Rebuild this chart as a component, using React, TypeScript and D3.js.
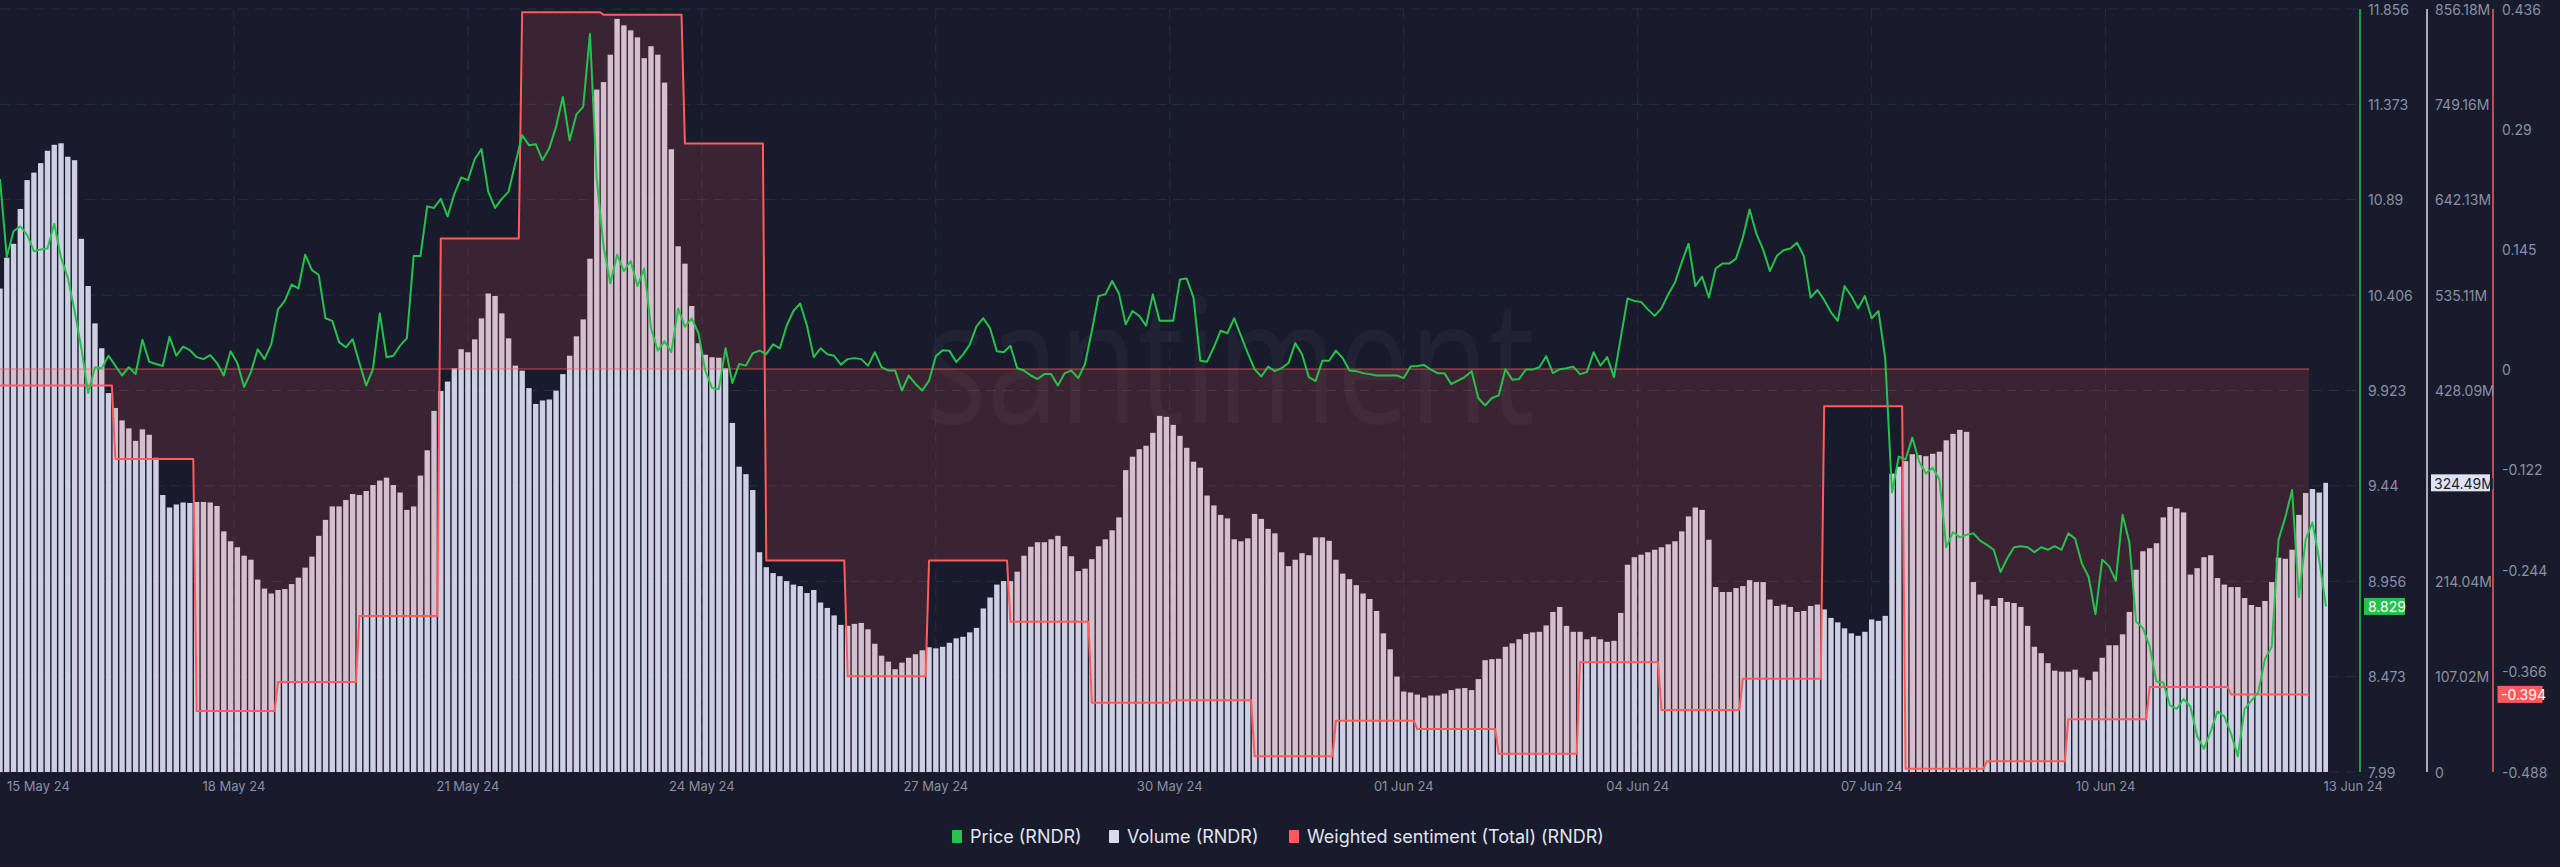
import * as d3 from "d3";
import { useEffect } from "react";

const WIDTH = 2560;
const HEIGHT = 867;
const FONT = "Inter, 'Noto Sans', sans-serif";
const BG = "#181b2c";

// time is counted in hours from the first sample; price & volume every 2h
const STEP_HOURS = 2;
const SPAN_HOURS = 686;
const TICK_EVERY_HOURS = 69;
// weighted sentiment is daily; its days start 14h before the first sample
const SENT_FIRST_HOUR = -14;
const SENT_STEP_HOURS = 24;

// price (USD)
const price = [
  10.994, 10.600, 10.730, 10.755, 10.712, 10.629, 10.637, 10.642, 10.768, 10.596,
  10.495, 10.326, 10.137, 9.910, 10.041, 10.036, 10.099, 10.049, 9.999, 10.041,
  10.006, 10.180, 10.069, 10.057, 10.047, 10.195, 10.099, 10.145, 10.127, 10.092,
  10.082, 10.102, 10.062, 9.999, 10.122, 10.062, 9.941, 10.016, 10.132, 10.082,
  10.157, 10.334, 10.377, 10.460, 10.440, 10.611, 10.533, 10.508, 10.289, 10.276,
  10.168, 10.142, 10.183, 10.062, 9.948, 10.031, 10.314, 10.092,
  10.099, 10.150, 10.188, 10.604, 10.604, 10.856, 10.848, 10.894, 10.805, 10.919,
  11.002, 10.989, 11.095, 11.146, 10.931, 10.848, 10.894, 10.931, 11.075, 11.216,
  11.166, 11.171, 11.090, 11.151, 11.259, 11.410, 11.191, 11.322, 11.360, 11.730,
  10.994, 10.654, 10.465, 10.611, 10.528, 10.579, 10.452, 10.541, 10.238, 10.125,
  10.173, 10.117, 10.339, 10.246, 10.289, 10.213, 10.024, 9.936, 9.931, 10.137,
  9.961, 10.057, 10.049, 10.112, 10.125, 10.107, 10.157,
  10.137, 10.251, 10.326, 10.364, 10.251, 10.092, 10.137, 10.107, 10.099, 10.054,
  10.082, 10.087, 10.082, 10.049, 10.117, 10.041, 10.024, 10.024, 9.923, 9.999,
  9.956, 9.923, 9.973, 10.097, 10.127, 10.125, 10.067, 10.105, 10.155, 10.248,
  10.289, 10.238, 10.122, 10.117, 10.150, 10.036, 10.024, 9.999, 9.981, 10.006,
  10.006, 9.948, 10.011, 10.024, 9.986, 10.057, 10.223, 10.402, 10.410, 10.478,
  10.415, 10.258, 10.326, 10.301, 10.251, 10.410, 10.276,
  10.276, 10.276, 10.485, 10.490, 10.394, 10.074, 10.069, 10.142, 10.226, 10.213,
  10.289, 10.200, 10.112, 10.031, 9.994, 10.044, 10.021, 10.036, 10.062, 10.163,
  10.107, 9.991, 9.971, 10.074, 10.074, 10.125, 10.087, 10.024, 10.021, 10.011,
  10.006, 9.999, 9.999, 9.999, 9.999, 9.986, 10.044, 10.047, 10.052, 10.029,
  10.011, 10.011, 9.956, 9.973, 9.991, 10.021, 9.885, 9.847, 9.885, 9.898,
  10.031, 9.978, 9.981, 10.029, 10.029, 10.041, 10.097, 10.011, 10.031,
  10.036, 10.044, 10.006, 10.016, 10.117, 10.049, 10.092, 9.991, 10.188, 10.389,
  10.377, 10.372, 10.334, 10.301, 10.339, 10.410, 10.470, 10.573, 10.667, 10.452,
  10.500, 10.394, 10.541, 10.566, 10.566, 10.591, 10.697, 10.840, 10.717, 10.637,
  10.528, 10.604, 10.634, 10.642, 10.672, 10.604, 10.394, 10.432, 10.382, 10.319,
  10.276, 10.452, 10.402, 10.339, 10.402, 10.289, 10.326, 10.087, 9.406, 9.588,
  9.573, 9.684, 9.563, 9.502, 9.532, 9.472, 9.129,
  9.205, 9.179, 9.192, 9.199, 9.162, 9.141, 9.116, 9.003, 9.073, 9.129,
  9.134, 9.129, 9.104, 9.129, 9.116, 9.134, 9.116, 9.199, 9.172, 9.046,
  8.978, 8.789, 9.066, 9.033, 8.960, 9.293, 9.154, 8.751, 8.720, 8.625,
  8.448, 8.443, 8.327, 8.310, 8.360, 8.322, 8.171, 8.108, 8.196, 8.297,
  8.272, 8.184, 8.070, 8.310, 8.352, 8.393, 8.562, 8.625, 9.167, 9.280,
  9.419, 8.877, 9.167, 9.255, 9.066, 8.829,
];

// volume (millions)
const volume = [
  542.5, 577.1, 592.7, 631.8, 664.2, 672.6, 683.2, 697.1, 703.8, 705.5,
  690.4, 686.5, 598.3, 545.3, 503.4, 475.5, 425.2, 408.5, 394.5, 385.6,
  371.6, 384.5, 378.4, 352.7, 310.8, 296.8, 300.2, 302.4, 301.9, 303.0,
  303.0, 302.4, 298.5, 270.0, 258.9, 252.2, 242.7, 238.2, 215.9, 205.8,
  200.3, 204.2, 205.3, 210.9, 218.1, 229.3, 241.6, 265.0, 282.9, 298.0,
  298.0, 305.2, 311.9, 310.8, 315.3, 322.0, 327.0, 330.3,
  322.0, 313.6, 294.1, 298.0, 332.6, 361.0, 405.2, 427.5, 438.1, 453.1,
  474.4, 471.0, 485.5, 509.0, 536.9, 534.1, 514.6, 486.6, 456.0, 450.4,
  430.8, 413.0, 416.9, 418.0, 428.0, 446.5, 467.1, 488.9, 507.9, 576.0,
  765.8, 774.2, 804.9, 845.1, 837.8, 832.2, 824.4, 801.0, 814.4, 804.9,
  773.6, 698.8, 589.9, 570.4, 522.9, 481.1, 468.2, 465.4, 464.9, 453.1,
  391.7, 342.6, 334.2, 316.4, 246.6, 229.8, 223.2,
  219.8, 214.2, 210.3, 208.6, 200.8, 204.2, 190.2, 184.1, 175.7, 165.1,
  164.0, 166.2, 167.3, 160.1, 143.9, 130.5, 123.8, 115.4, 122.7, 128.2,
  132.1, 136.6, 140.0, 138.8, 140.5, 145.0, 150.0, 151.7, 156.7, 161.7,
  183.5, 195.8, 210.3, 214.2, 214.2, 224.8, 242.7, 252.8, 257.8, 257.8,
  261.1, 265.0, 253.3, 242.1, 225.4, 228.2, 238.8, 253.3, 261.1, 271.2,
  285.7, 338.7, 353.8, 362.2, 366.1, 380.6, 399.6,
  398.5, 389.5, 377.2, 363.8, 348.2, 341.5, 310.2, 299.1, 288.5, 284.5,
  261.1, 258.9, 262.2, 289.6, 284.0, 272.8, 267.8, 246.6, 231.0, 238.2,
  245.5, 243.2, 263.3, 263.3, 259.4, 238.2, 222.6, 216.4, 209.7, 200.3,
  194.1, 180.7, 155.6, 137.7, 107.0, 90.3, 89.2, 86.9, 83.6, 85.8,
  85.8, 88.0, 91.9, 93.6, 94.2, 91.9, 104.2, 125.5, 126.6, 127.1,
  140.5, 144.4, 148.9, 155.0, 156.7, 157.3, 164.5, 179.6, 185.2,
  164.0, 157.3, 157.3, 148.9, 151.7, 148.9, 146.1, 147.2, 178.5, 232.6,
  241.0, 243.8, 246.6, 249.4, 252.2, 255.5, 258.9, 270.0, 286.8, 296.8,
  294.1, 260.6, 207.5, 202.0, 202.0, 206.4, 208.6, 215.3, 213.1, 213.1,
  193.5, 186.3, 187.9, 185.2, 179.6, 180.7, 186.3, 187.9, 182.4, 172.9,
  167.9, 161.2, 155.6, 152.8, 157.3, 171.2, 169.6, 175.2, 334.8, 342.6,
  348.8, 356.6, 355.5, 354.4, 357.1, 359.4, 372.2,
  379.4, 383.9, 381.7, 213.1, 199.1, 193.5, 186.3, 195.2, 190.8, 189.6,
  185.2, 164.0, 140.5, 133.3, 122.1, 113.7, 112.6, 112.6, 114.8, 105.9,
  103.1, 112.6, 128.2, 142.2, 142.2, 154.5, 179.6, 227.0, 247.7, 251.1,
  256.7, 285.7, 297.4, 295.7, 291.3, 221.5, 228.7, 241.0, 243.2, 217.6,
  210.3, 207.5, 207.5, 195.2, 187.4, 185.2, 191.9, 213.1, 240.5, 239.3,
  249.4, 288.5, 313.0, 317.5, 313.6, 324.49,
];

// weighted sentiment, one value per day
const sentiment = [
  -0.020, -0.020, -0.109, -0.414, -0.379, -0.299, 0.158, 0.432, 0.429, 0.273,
  -0.232, -0.372, -0.232, -0.306, -0.404, -0.401, -0.469, -0.426, -0.436, -0.466,
  -0.355, -0.413, -0.375, -0.045, -0.484, -0.475, -0.424, -0.385, -0.394,
];

const dateLabels = [
  "18 May 24", "21 May 24", "24 May 24", "27 May 24", "30 May 24",
  "01 Jun 24", "04 Jun 24", "07 Jun 24", "10 Jun 24",
];
const firstDateLabel = "15 May 24";
const lastDateLabel = "13 Jun 24";

const priceTicks = [7.99, 8.473, 8.956, 9.44, 9.923, 10.406, 10.89, 11.373, 11.856];
const volumeTicks = [0, 107.02, 214.04, 321.07, 428.09, 535.11, 642.13, 749.16, 856.18];
const sentimentTicks = [-0.488, -0.366, -0.244, -0.122, 0, 0.145, 0.29, 0.436];

const GREEN = "#26c24c";
const VOL = "#cdd0e3";
const RED = "#ff5b5b";

const legendItems = [
  { label: "Price (RNDR)", color: GREEN, x: 952 },
  { label: "Volume (RNDR)", color: "#d8dbea", x: 1109 },
  { label: "Weighted sentiment (Total) (RNDR)", color: RED, x: 1289 },
];

export default function App() {
  useEffect(() => {
    document.body.style.margin = "0";
    document.body.style.background = BG;
  }, []);

  const top = 9;
  const bottom = 772;
  const plotRight = 2326;
  const gridRight = 2358;

  const x = d3.scaleLinear().domain([0, SPAN_HOURS]).range([0, plotRight]);
  const yPrice = d3.scaleLinear().domain([7.99, 11.856]).range([bottom, top]);
  const yVol = d3.scaleLinear().domain([0, 856.18]).range([bottom, top]);
  const ySent = d3.scaleLinear().domain([-0.488, 0.436]).range([bottom, top]);

  const step = x(STEP_HOURS) - x(0);
  const barW = step - 1.4;

  const pricePath = d3
    .line<number>()
    .x((_, i) => x(i * STEP_HOURS))
    .y((d) => yPrice(d))(price);

  // each daily value is held for 23h, then moves to the next over one hour
  const sentPts: [number, number][] = sentiment.flatMap((v, k) => {
    const start = SENT_FIRST_HOUR + k * SENT_STEP_HOURS;
    return [
      [start, v],
      [start + SENT_STEP_HOURS - 1, v],
    ] as [number, number][];
  });
  const sentEndHour = SENT_FIRST_HOUR + sentiment.length * SENT_STEP_HOURS - 1;

  const sentLine = d3
    .line<[number, number]>()
    .x((d) => x(d[0]))
    .y((d) => ySent(d[1]))(sentPts);
  const sentArea = d3
    .area<[number, number]>()
    .x((d) => x(d[0]))
    .y0(ySent(0))
    .y1((d) => ySent(d[1]))(sentPts);

  const lastPrice = price[price.length - 1];
  const lastVol = volume[volume.length - 1];
  const lastSent = sentiment[sentiment.length - 1];

  const axisX = { price: 2360, vol: 2427, sent: 2493 };
  const labelColor = "#8b8fa3";

  const fmtVol = (v: number) => (v === 0 ? "0" : v.toFixed(2) + "M");

  return (
    <svg
      width={WIDTH}
      height={HEIGHT}
      style={{ position: "absolute", left: 0, top: 0, display: "block" }}
      fontFamily={FONT}
    >
      <defs>
        <clipPath id="plotClip">
          <rect x={0} y={0} width={plotRight + 2} height={bottom + 1} />
        </clipPath>
      </defs>
      <rect width={WIDTH} height={HEIGHT} fill={BG} />

      {/* grid */}
      <g stroke="#2a2e42" strokeWidth={1} strokeDasharray="10 7">
        {priceTicks.map((t) => (
          <line key={"h" + t} x1={0} x2={gridRight} y1={yPrice(t)} y2={yPrice(t)} />
        ))}
        {dateLabels.map((_, i) => {
          const xx = x((i + 1) * TICK_EVERY_HOURS);
          return <line key={"v" + i} x1={xx} x2={xx} y1={top} y2={bottom} />;
        })}
      </g>

      {/* watermark */}
      <text
        x={925}
        y={423}
        fontSize={172}
        fontFamily="'Open Sans', sans-serif"
        fill="#ffffff"
        fillOpacity={0.035}
        textLength={610}
        lengthAdjust="spacingAndGlyphs"
      >
        santiment
      </text>

      <g clipPath="url(#plotClip)">
        {/* volume bars */}
        <g fill={VOL}>
          {volume.map((v, i) => (
            <rect
              key={i}
              x={x(i * STEP_HOURS) - barW / 2}
              y={yVol(v)}
              width={barW}
              height={bottom - yVol(v)}
            />
          ))}
        </g>

        {/* sentiment */}
        <path d={sentArea ?? ""} fill={RED} fillOpacity={0.15} />
        <line
          x1={0}
          x2={x(sentEndHour)}
          y1={ySent(0)}
          y2={ySent(0)}
          stroke={RED}
          strokeOpacity={0.75}
          strokeWidth={1}
        />
        <path d={sentLine ?? ""} fill="none" stroke={RED} strokeWidth={2} strokeLinejoin="round" />

        {/* price */}
        <path d={pricePath ?? ""} fill="none" stroke={GREEN} strokeWidth={2} strokeLinejoin="round" />
      </g>

      {/* right axes */}
      <line x1={axisX.price} x2={axisX.price} y1={top} y2={bottom} stroke={GREEN} strokeWidth={1.5} />
      <line x1={axisX.vol} x2={axisX.vol} y1={top} y2={bottom} stroke="#d8dbea" strokeWidth={1.5} />
      <line x1={axisX.sent} x2={axisX.sent} y1={top} y2={bottom} stroke={RED} strokeWidth={1.5} />

      <g fontSize={14} fill={labelColor} dominantBaseline="central">
        {priceTicks.map((t) => (
          <text key={"p" + t} x={axisX.price + 8} y={yPrice(t)}>
            {String(t)}
          </text>
        ))}
        {volumeTicks
          .filter((t) => Math.abs(yVol(t) - yVol(lastVol)) > 14)
          .map((t) => (
            <text key={"vv" + t} x={axisX.vol + 8} y={yVol(t)}>
              {fmtVol(t)}
            </text>
          ))}
        {sentimentTicks.map((t) => (
          <text key={"s" + t} x={axisX.sent + 9} y={ySent(t)}>
            {String(t)}
          </text>
        ))}
      </g>

      {/* last value badges */}
      <g fontSize={14} dominantBaseline="central">
        <rect x={axisX.price + 4} y={yPrice(lastPrice) - 8.5} width={41} height={17} fill={GREEN} />
        <text x={axisX.price + 8} y={yPrice(lastPrice) + 0.5} fill="#ffffff">
          {lastPrice.toFixed(3)}
        </text>
        <rect x={axisX.vol + 4} y={yVol(lastVol) - 8.5} width={59} height={17} fill="#dfe2f0" />
        <text x={axisX.vol + 7} y={yVol(lastVol) + 0.5} fill="#1b1e2f">
          {fmtVol(lastVol)}
        </text>
        <rect x={axisX.sent + 4.5} y={ySent(lastSent) - 8.5} width={45} height={17} fill={RED} />
        <text x={axisX.sent + 8} y={ySent(lastSent) + 0.5} fill="#ffffff">
          {lastSent.toFixed(3)}
        </text>
      </g>

      {/* date axis */}
      <g fontSize={13} fill={labelColor}>
        <text x={7} y={791}>
          {firstDateLabel}
        </text>
        {dateLabels.map((d, i) => (
          <text key={d} x={x((i + 1) * TICK_EVERY_HOURS)} y={791} textAnchor="middle">
            {d}
          </text>
        ))}
        <text x={2383} y={791} textAnchor="end">
          {lastDateLabel}
        </text>
      </g>

      {/* legend */}
      <g fontSize={18} fill="#e2e4ee">
        {legendItems.map((it) => (
          <g key={it.label}>
            <rect x={it.x} y={830} width={10} height={13} rx={1} fill={it.color} />
            <text x={it.x + 18} y={843}>
              {it.label}
            </text>
          </g>
        ))}
      </g>
    </svg>
  );
}
